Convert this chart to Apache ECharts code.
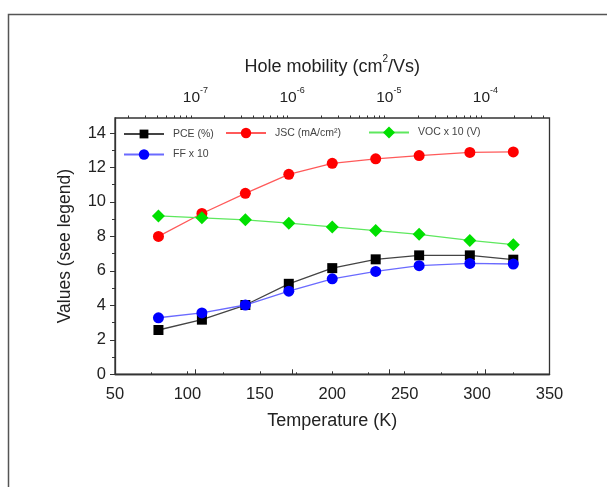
<!DOCTYPE html>
<html>
<head>
<meta charset="utf-8">
<script src="https://cdn.jsdelivr.net/npm/echarts@6/dist/echarts.min.js"></script>
<style>
html,body{margin:0;padding:0;background:#fff;}
#c{width:607px;height:487px;}
</style>
</head>
<body>
<div id="c"></div>
<script>
// ---- data ----
const temperature = [80, 110, 140, 170, 200, 230, 260, 295, 325];
const pce   = [2.57, 3.17, 4.02, 5.25, 6.16, 6.67, 6.90, 6.90, 6.65];
const jsc   = [8.00, 9.33, 10.50, 11.60, 12.24, 12.50, 12.69, 12.87, 12.90];
const voc10 = [9.19, 9.08, 8.96, 8.77, 8.55, 8.34, 8.12, 7.77, 7.52];
const ff10  = [3.28, 3.56, 4.02, 4.82, 5.54, 5.97, 6.30, 6.43, 6.40];

const seriesNames = ['PCE (%)', 'JSC (mA/cm²)', 'VOC x 10 (V)', 'FF x 10'];

// tick labels
const yMajorTicks = [0, 2, 4, 6, 8, 10, 12, 14];
const yMinorTicks = [1, 3, 5, 7, 9, 11, 13];
const mobilityDecades = [-8, -7, -6, -5, -4]; // log10 exponents
const mobilityLabelDecades = [-7, -6, -5, -4];
const logMinorMultipliers = [2, 3, 4, 5, 6, 7, 8, 9];

// top (log) axis range, as exponents
const mobMin = -7.832, mobMax = -3.338;

const mobMinor = [];
mobilityDecades.forEach(d => logMinorMultipliers.forEach(m => {
  const v = d + Math.log10(m);
  if (v > mobMin && v < mobMax) mobMinor.push(v);
}));

const pairs = arr => temperature.map((t, i) => [t, arr[i]]);

const font = 'Liberation Sans, Arial, sans-serif';
const axisColor = '#333';
const textColor = '#222';

const chart = echarts.init(document.getElementById('c'));

function legendAt(name, left, centerY, h) {
  return {
    data: [name], left: left, top: centerY - h / 2, padding: 0, itemGap: 0,
    itemWidth: 40, itemHeight: h,
    textStyle: {fontFamily: font, fontSize: 10.5, color: '#444', padding: [0, 0, 0, 4]}
  };
}

const option = {
  backgroundColor: '#fff',
  animation: false,
  textStyle: {fontFamily: font},
  graphic: [{
    type: 'rect', shape: {x: 8.5, y: 14.5, width: 640, height: 520},
    style: {fill: 'none', stroke: '#555', lineWidth: 1.5}, silent: true
  }],
  grid: {left: 115, right: 57.5, top: 118, bottom: 112.7, show: true,
         borderColor: axisColor, borderWidth: 1.3, backgroundColor: 'transparent'},
  legend: [
    legendAt(seriesNames[0], 123, 134, 11),
    legendAt(seriesNames[1], 225, 134, 13),
    legendAt(seriesNames[2], 368, 134, 15),
    legendAt(seriesNames[3], 123, 155.5, 13)
  ],
  xAxis: [
    {
      type: 'value', position: 'bottom', min: 50, max: 350, interval: 50,
      name: 'Temperature (K)', nameLocation: 'middle', nameGap: 38,
      nameTextStyle: {fontFamily: font, fontSize: 18, color: textColor},
      axisLine: {lineStyle: {color: axisColor, width: 1.3}},
      axisTick: {inside: true, length: 3, lineStyle: {color: axisColor}},
      minorTick: {show: true, splitNumber: 2, length: 2, lineStyle: {color: axisColor}},
      axisLabel: {fontFamily: font, fontSize: 16.5, color: textColor, margin: 12},
      splitLine: {show: false}
    },
    {
      type: 'value', position: 'top', min: mobMin, max: mobMax,
      name: '{a|Hole mobility (cm}{s|2}{a|/Vs)}', nameLocation: 'middle', nameGap: 42,
      nameTextStyle: {rich: {
        a: {fontFamily: font, fontSize: 18, color: textColor, lineHeight: 22, verticalAlign: 'bottom'},
        s: {fontFamily: font, fontSize: 10, color: textColor, lineHeight: 10, verticalAlign: 'top'}
      }},
      axisLine: {lineStyle: {color: axisColor, width: 1.3}},
      axisTick: {customValues: mobilityLabelDecades, length: 5, lineStyle: {color: axisColor}},
      axisLabel: {
        customValues: mobilityLabelDecades, margin: 12,
        formatter: v => '{b|10}{s|' + Math.round(v) + '}',
        rich: {
          b: {fontFamily: font, fontSize: 15.5, color: textColor, lineHeight: 20, verticalAlign: 'bottom'},
          s: {fontFamily: font, fontSize: 9, color: textColor, lineHeight: 8, verticalAlign: 'top'}
        }
      },
      splitLine: {show: false}
    },
    {
      type: 'value', position: 'top', min: mobMin, max: mobMax,
      axisLine: {show: false},
      axisTick: {customValues: mobMinor, length: 2.5, lineStyle: {color: axisColor}},
      axisLabel: {show: false},
      splitLine: {show: false}
    }
  ],
  yAxis: [
    {
      type: 'value', position: 'left', min: 0, max: 14.87,
      name: 'Values (see legend)', nameLocation: 'middle', nameGap: 41,
      nameTextStyle: {fontFamily: font, fontSize: 17.5, color: textColor},
      axisLine: {lineStyle: {color: axisColor, width: 1.3}},
      axisTick: {customValues: yMajorTicks, length: 5, lineStyle: {color: axisColor}},
      axisLabel: {customValues: yMajorTicks, fontFamily: font, fontSize: 16.5, color: textColor, margin: 9},
      splitLine: {show: false}
    },
    {
      type: 'value', position: 'left', min: 0, max: 14.87,
      axisLine: {show: false},
      axisTick: {customValues: yMinorTicks, length: 3, lineStyle: {color: axisColor}},
      axisLabel: {show: false},
      splitLine: {show: false}
    }
  ],
  series: [
    {
      name: seriesNames[0], type: 'line', data: pairs(pce),
      symbol: 'rect', symbolSize: 10,
      itemStyle: {color: '#000'}, lineStyle: {color: '#444', width: 1.3}
    },
    {
      name: seriesNames[1], type: 'line', data: pairs(jsc),
      symbol: 'circle', symbolSize: 11,
      itemStyle: {color: '#ff0000'}, lineStyle: {color: '#ff5a5a', width: 1.3}
    },
    {
      name: seriesNames[2], type: 'line', data: pairs(voc10),
      symbol: 'diamond', symbolSize: 13,
      itemStyle: {color: '#00e000'}, lineStyle: {color: '#5ee85e', width: 1.3}
    },
    {
      name: seriesNames[3], type: 'line', data: pairs(ff10),
      symbol: 'circle', symbolSize: 11,
      itemStyle: {color: '#0000ff'}, lineStyle: {color: '#6a6aff', width: 1.3}
    }
  ]
};
chart.setOption(option);
</script>
</body>
</html>
